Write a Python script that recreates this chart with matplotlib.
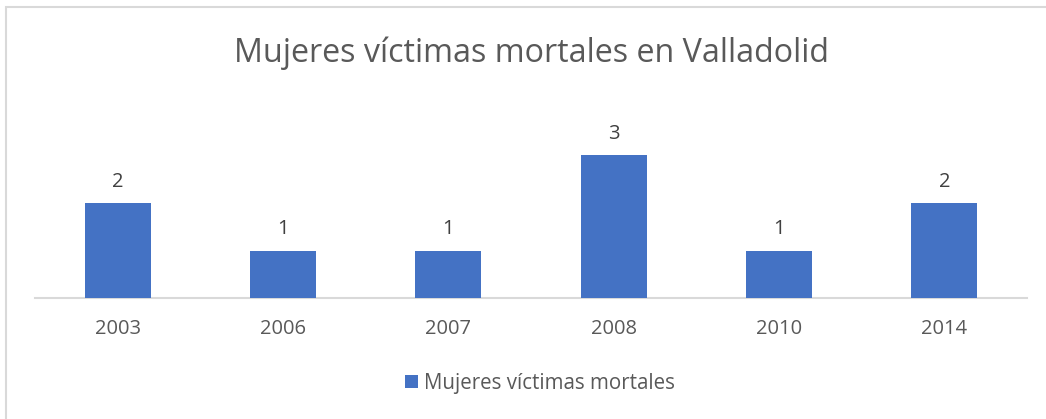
import matplotlib
matplotlib.use("Agg")
import matplotlib.pyplot as plt
from matplotlib.patches import Rectangle

years = ["2003", "2006", "2007", "2008", "2010", "2014"]
values = [2, 1, 1, 3, 1, 2]
series_name = "Mujeres víctimas mortales"
title = "Mujeres víctimas mortales en Valladolid"

W, H = 1046, 419
fig = plt.figure(figsize=(W / 100, H / 100), dpi=100)
fig.patch.set_facecolor("white")
plt.rcParams['font.family'] = ['Open Sans', 'DejaVu Sans']

# outer border
fig.add_artist(Rectangle((5.5 / W, -0.1), 1.2, (H - 7.5) / H + 0.1,
                         transform=fig.transFigure, fill=False,
                         edgecolor="#d9d9d9", linewidth=1.5))

left, right = 35 / W, 1027 / W
bottom = (H - 298) / H
top = (H - 108) / H
ax = fig.add_axes([left, bottom, right - left, top - bottom])

x = range(len(years))
bars = ax.bar(x, values, width=0.4, color="#4472C4", label=series_name, zorder=3)
ax.set_xlim(-0.5, len(years) - 0.5)
ax.set_ylim(0, 4)
for s in ["top", "right", "left"]:
    ax.spines[s].set_visible(False)
ax.spines["bottom"].set_color("#d9d9d9")
ax.spines["bottom"].set_linewidth(1.5)
ax.set_yticks([])
ax.set_xticks(list(x))
ax.set_xticklabels(years, fontsize=14.5, color="#595959")
ax.tick_params(axis="x", length=0, pad=15)

for xi, v in zip(x, values):
    ax.annotate(str(v), (xi, v), xytext=(0, 8), textcoords="offset points",
                ha="center", va="bottom", fontsize=14.5, color="#404040")

fig.text(531 / W, 1 - 53 / H, title, ha="center", va="center",
         fontsize=23.2, color="#595959")

leg = fig.legend(handles=[bars], labels=[series_name], loc="center",
                 bbox_to_anchor=(540 / W, 1 - 383 / H), frameon=False,
                 fontsize=14.8, handlelength=0.6, handleheight=0.6,
                 handletextpad=0.3)
for t in leg.get_texts():
    t.set_color("#595959")

fig.savefig("out.png", dpi=100)
